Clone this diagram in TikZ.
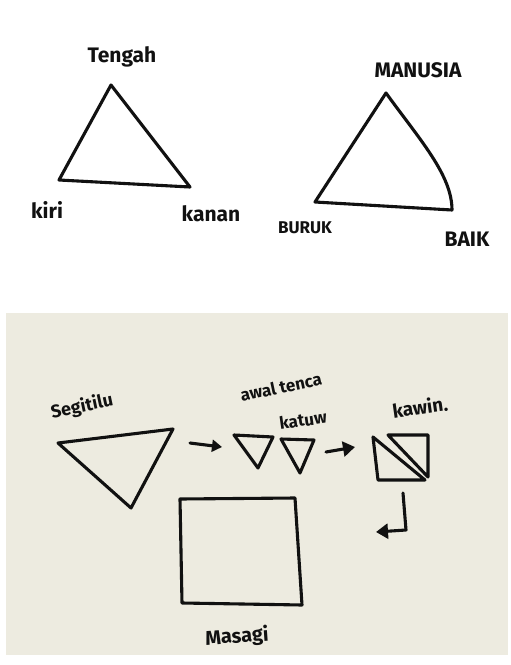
\documentclass[tikz,border=0pt]{standalone}
\usepackage{fontspec}
\setmainfont{Fira Sans}
\usetikzlibrary{arrows.meta}
\definecolor{paper}{HTML}{EDEBE0}
\definecolor{ink}{HTML}{111111}
\tikzset{
  stroke/.style={draw=ink, line width=3.1pt, line join=round, line cap=round},
  hand/.style={text=ink, inner sep=0pt, font=\bfseries\fontsize{19}{20}\selectfont},
  arr/.style={stroke, -{Triangle[length=10pt,width=12pt]}},
  bigarr/.style={stroke, -{Triangle[length=12pt,width=15pt]}}
}
\begin{document}
\begin{tikzpicture}[x=1pt,y=-1pt]
\useasboundingbox (0,0) rectangle (511,665);
\fill[white] (0,0) rectangle (511,665);
\fill[paper] (6,313) rectangle (508,655);

% ---- top left triangle ----
\coordinate (tA) at (111,85);
\coordinate (tL) at (59,180);
\coordinate (tR) at (190,187);
\draw[stroke] (tA) -- (tR) -- (tL) -- cycle;
\node[hand, font=\bfseries\fontsize{21}{22}\selectfont] (tengah) at (122,57) {Tengah};
\node[hand, font=\bfseries\fontsize{21}{22}\selectfont] (kiri) at (47,210) {kiri};
\node[hand, font=\bfseries\fontsize{21}{22}\selectfont] (kanan) at (211,214) {kanan};

% ---- top right triangle ----
\coordinate (mA) at (386,93);
\coordinate (mL) at (315,202);
\coordinate (mR) at (452,210);
\draw[stroke] (mA) .. controls (420,140) and (452,175) .. (mR) -- (mL) -- cycle;
\node[hand, font=\bfseries\fontsize{21}{22}\selectfont] (manusia) at (418,70) {MANUSIA};
\node[hand, font=\bfseries\fontsize{17}{18}\selectfont] (buruk) at (305,228) {BURUK};
\node[hand, font=\bfseries\fontsize{21}{22}\selectfont] (baik) at (467,239) {BAIK};

% ---- bottom panel ----
\coordinate (sA) at (58,443);
\coordinate (sB) at (173,429);
\coordinate (sC) at (131,508);
\draw[stroke] (sA) -- (sB) -- (sC) -- cycle;
\node[hand, rotate=12, font=\bfseries\fontsize{18}{19}\selectfont] (segitiga) at (82,407) {Segitilu};

\coordinate (a1s) at (190,443);
\coordinate (a1e) at (222,447);
\draw[arr] (a1s) -- (a1e);

\coordinate (p1a) at (234,435);
\coordinate (p1b) at (273,437);
\coordinate (p1c) at (258,468);
\draw[stroke] (p1a) -- (p1b) -- (p1c) -- cycle;
\coordinate (p2a) at (281,439);
\coordinate (p2b) at (314,440);
\coordinate (p2c) at (300,473);
\draw[stroke] (p2a) -- (p2b) -- (p2c) -- cycle;
\node[hand, rotate=12, font=\bfseries\fontsize{17}{18}\selectfont] (awal) at (281,387) {awal tenca};
\node[hand, rotate=8, font=\bfseries\fontsize{17}{18}\selectfont] (katuw) at (303,420) {katuw};

\coordinate (a2s) at (326,452);
\coordinate (a2e) at (355,447);
\draw[bigarr] (a2s) -- (a2e);

\coordinate (kA) at (373,437);
\coordinate (kB) at (378,480);
\coordinate (kC) at (425,480);
\draw[stroke] (kA) -- (kB) -- (kC) -- cycle;
\coordinate (kD) at (388,435);
\coordinate (kE) at (428,435);
\coordinate (kF) at (428,477);
\draw[stroke] (kD) -- (kE) -- (kF) -- cycle;
\node[hand, rotate=8] (kawin) at (420,407) {kawin.};

\coordinate (b1) at (403,493);
\coordinate (b2) at (406,530);
\coordinate (b3) at (376,532);
\draw[bigarr] (b1) -- (b2) -- (b3);

\coordinate (q1) at (180,499);
\coordinate (q2) at (295,498);
\coordinate (q3) at (302,605);
\coordinate (q4) at (182,603);
\draw[stroke] (q1) -- (q2) -- (q3) -- (q4) -- cycle;
\node[hand, rotate=4, font=\bfseries\fontsize{20}{21}\selectfont] (masagi) at (237,637) {Masagi};
\end{tikzpicture}
\end{document}
